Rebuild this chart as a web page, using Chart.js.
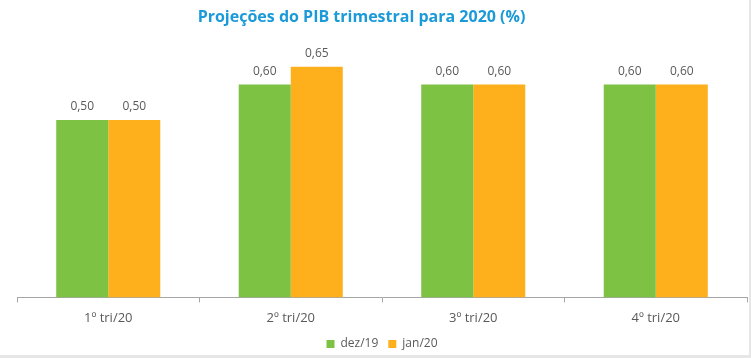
<!DOCTYPE html>
<html>
<head>
<meta charset="utf-8">
<script src="https://cdn.jsdelivr.net/npm/chart.js@4"></script>
<style>
  html, body { margin: 0; padding: 0; background: #e6e6e6; }
  #wrap { width: 749px; height: 355px; background: #ffffff; position: relative; }
</style>
</head>
<body>
<div id="wrap"><canvas id="chartCanvas"></canvas></div>
<script>
// Projeções do PIB trimestral - dez/19 vs jan/20
const chartTitle = "Projeções do PIB trimestral para 2020 (%)";
const quarters = ["1º tri/20", "2º tri/20", "3º tri/20", "4º tri/20"];
const dez19 = [0.50, 0.60, 0.60, 0.60];
const jan20 = [0.50, 0.65, 0.60, 0.60];

const textGrey = '#595959';

// value above each bar + title (title sits a bit left of centre in the original)
const valueLabels = {
    id: 'valueLabels',
    afterDatasetsDraw(chart) {
        const ctx = chart.ctx;
        ctx.save();
        ctx.font = '12px "Open Sans", sans-serif';
        ctx.fillStyle = textGrey;
        ctx.textAlign = 'center';
        ctx.textBaseline = 'bottom';
        chart.data.datasets.forEach(function(ds, i) {
            chart.getDatasetMeta(i).data.forEach(function(bar, j) {
                ctx.fillText(ds.data[j].toFixed(2).replace('.', ','), bar.x, bar.y - 7);
            });
        });

        ctx.font = 'bold 16px "Open Sans", sans-serif';
        ctx.fillStyle = '#1a9ad8';
        ctx.textBaseline = 'middle';
        ctx.fillText(chartTitle, chart.width / 2 - 13, 17);
        ctx.restore();
    }
};

new Chart(document.getElementById('chartCanvas'), {
    type: 'bar',
    data: {
        labels: quarters,
        datasets: [{
            label: 'dez/19',
            backgroundColor: '#7dc242',
            data: dez19
        },
        {
            label: 'jan/20',
            backgroundColor: '#fdb01b',
            data: jan20
        }]
    },
    options: {
        responsive: true,
        maintainAspectRatio: false,
        animation: false,
        layout: {padding: {left: 17, right: 2, top: 49, bottom: -5}},
        datasets: {bar: {barPercentage: 1.0, categoryPercentage: 0.57}},
        plugins: {
            title: {display: false},
            legend: {
                position: 'bottom',
                labels: {
                    color: textGrey,
                    boxWidth: 8,
                    boxHeight: 8,
                    padding: 10,
                    font: {family: '"Open Sans", sans-serif', size: 12}
                }
            },
            tooltip: {enabled: false}
        },
        scales: {
            y: {
                display: false,
                min: 0,
                max: 0.7
            },
            x: {
                // pull the legend closer to the tick labels
                afterFit: function(scale) { scale.height -= 6; },
                grid: {
                    display: true,
                    offset: true,
                    drawOnChartArea: false,
                    tickLength: 5,
                    color: '#a6a6a6'
                },
                border: {color: '#a6a6a6'},
                ticks: {
                    color: textGrey,
                    padding: 8,
                    font: {family: '"Open Sans", sans-serif', size: 13}
                }
            }
        }
    },
    plugins: [valueLabels]
});
</script>
</body>
</html>
